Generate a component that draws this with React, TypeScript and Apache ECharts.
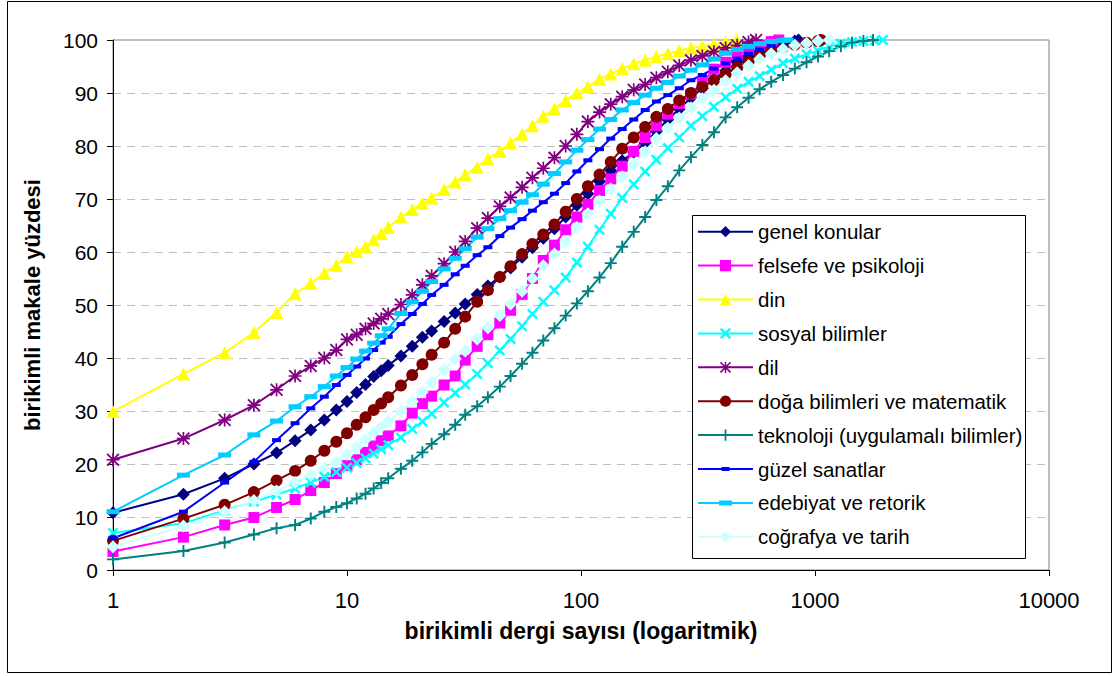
import React, { useEffect, useRef } from "react";
import * as echarts from "echarts";

const X_GRID = [1, 2, 3, 4, 5, 6, 7, 8, 9, 10, 11, 12, 13, 14, 15, 17, 19, 21, 23, 26, 29, 32, 36, 40, 45, 50, 56, 62, 69, 77, 86, 96, 107, 120, 134, 150, 168, 188, 210, 235, 263, 295, 330, 370, 415, 465, 520, 580, 650, 730, 820, 920, 1030, 1150, 1290, 1440, 1610, 1800];

const SERIES_NAMES = [
  "genel konular",
  "felsefe ve psikoloji",
  "din",
  "sosyal bilimler",
  "dil",
  "doğa bilimleri ve matematik",
  "teknoloji (uygulamalı bilimler)",
  "güzel sanatlar",
  "edebiyat ve retorik",
  "coğrafya ve tarih",
];

// cumulative % of articles at X_GRID positions, followed by the last journal count (100 %)
const genel = [10.8, 14.3, 17.3, 20.0, 22.1, 24.4, 26.4, 28.3, 30.2, 31.8, 33.5, 35.0, 36.5, 37.6, 38.6, 40.4, 42.2, 43.9, 45.1, 46.9, 48.5, 50.2, 52.0, 53.6, 55.3, 57.0, 59.0, 60.8, 62.6, 64.4, 66.6, 68.8, 71.0, 73.3, 75.4, 77.2, 78.8, 80.6, 82.8, 85.0, 87.0, 89.1, 90.9, 92.6, 94.2, 95.8, 96.9, 97.8, 98.6, 99.3, 99.8];
const genelEnd = 850;
const felsefe = [3.5, 6.2, 8.5, 9.9, 11.8, 13.3, 15.0, 16.5, 18.2, 19.7, 20.8, 22.2, 23.4, 24.4, 25.3, 27.2, 29.6, 31.4, 32.8, 34.9, 36.6, 39.6, 42.2, 44.4, 46.6, 49.0, 52.0, 55.0, 58.4, 61.3, 64.2, 66.6, 69.0, 71.6, 73.8, 76.2, 79.0, 81.6, 83.8, 86.0, 88.0, 89.8, 92.0, 94.5, 95.8, 97.3, 98.2, 99.0, 99.7];
const felsefeEnd = 700;
const din = [29.9, 37.0, 41.0, 44.8, 48.6, 52.1, 54.1, 56.0, 57.5, 59.1, 60.1, 61.0, 62.3, 63.5, 64.6, 66.6, 68.0, 69.2, 70.2, 71.8, 73.2, 74.6, 76.0, 77.6, 79.0, 80.6, 82.2, 83.8, 85.6, 87.0, 88.6, 90.0, 91.2, 92.6, 93.6, 94.6, 95.5, 96.2, 96.9, 97.4, 98.0, 98.5, 98.8, 99.2, 99.6];
const dinEnd = 463;
const sosyal = [7.0, 8.8, 11.3, 12.9, 14.2, 15.4, 16.5, 17.6, 18.5, 19.3, 20.2, 21.1, 22.0, 22.8, 23.6, 25.0, 26.6, 28.0, 29.5, 31.6, 33.4, 35.0, 37.0, 39.0, 41.4, 43.6, 46.0, 48.3, 50.6, 52.8, 55.2, 58.0, 61.0, 64.2, 67.2, 70.2, 72.8, 75.2, 77.4, 79.6, 81.6, 83.8, 85.6, 87.4, 89.2, 90.8, 92.1, 93.2, 94.4, 95.6, 96.5, 97.3, 98.0, 98.8, 99.3, 99.6, 99.8, 99.9];
const sosyalEnd = 1950;
const dil = [20.8, 24.8, 28.3, 31.1, 34.0, 36.6, 38.5, 40.0, 41.5, 43.5, 44.4, 45.5, 46.5, 47.4, 48.3, 50.1, 51.9, 53.8, 55.5, 57.8, 60.0, 62.0, 64.5, 66.4, 68.6, 70.3, 72.2, 74.0, 75.8, 77.8, 80.0, 82.2, 84.6, 86.4, 87.9, 89.3, 90.6, 91.6, 92.9, 94.0, 95.2, 96.2, 97.0, 97.8, 98.5, 99.0, 99.6];
const dilEnd = 560;
const doga = [5.5, 9.7, 12.3, 14.7, 16.9, 18.7, 20.6, 22.5, 24.2, 25.8, 27.4, 28.8, 30.2, 31.4, 32.6, 34.8, 36.8, 38.8, 40.6, 42.9, 45.5, 47.8, 50.6, 52.8, 55.3, 57.3, 59.6, 61.5, 63.3, 65.2, 67.6, 70.0, 72.4, 74.6, 77.0, 79.5, 81.6, 83.6, 85.5, 87.0, 88.6, 90.0, 91.2, 92.4, 93.6, 94.8, 95.9, 97.0, 97.9, 98.6, 99.1, 99.5, 99.8];
const dogaEnd = 1060;
const teknoloji = [2.0, 3.6, 5.2, 6.7, 7.9, 8.5, 9.7, 11.0, 11.9, 12.6, 13.5, 14.4, 15.4, 16.4, 17.3, 19.1, 20.6, 22.2, 23.8, 25.6, 27.4, 29.3, 30.9, 32.6, 34.6, 36.6, 38.9, 41.0, 43.3, 45.6, 48.0, 50.3, 52.6, 55.2, 57.9, 61.0, 63.8, 66.6, 69.8, 72.4, 75.4, 77.9, 80.2, 82.6, 85.4, 87.3, 89.1, 90.7, 92.1, 93.4, 94.6, 95.8, 96.9, 97.9, 98.8, 99.5, 99.8];
const teknolojiEnd = 1770;
const guzel = [6.0, 11.0, 16.5, 20.4, 24.5, 27.7, 30.5, 32.7, 34.9, 36.8, 38.4, 39.9, 41.5, 42.9, 44.0, 46.4, 48.3, 50.2, 51.9, 53.8, 55.8, 57.4, 59.4, 60.9, 63.0, 64.6, 66.2, 67.8, 69.4, 71.0, 73.0, 75.2, 77.3, 79.4, 81.4, 83.2, 85.0, 86.8, 88.4, 89.6, 90.9, 92.4, 93.4, 94.6, 95.6, 96.5, 97.4, 98.2, 98.9, 99.5];
const guzelEnd = 810;
const edebiyat = [11.0, 17.9, 21.7, 25.5, 28.1, 30.8, 32.7, 34.6, 36.6, 38.2, 39.8, 41.3, 42.8, 44.2, 45.5, 48.4, 50.6, 52.6, 54.4, 56.8, 58.8, 60.6, 62.8, 64.4, 66.3, 67.8, 69.4, 70.8, 72.8, 74.8, 77.0, 79.2, 81.2, 83.2, 85.0, 86.8, 88.2, 89.6, 90.9, 92.0, 93.2, 94.3, 95.3, 96.4, 97.5, 98.2, 98.8, 99.3, 99.7, 99.9];
const edebiyatEnd = 760;
const cografya = [4.4, 8.3, 11.0, 13.1, 14.9, 16.5, 17.9, 19.2, 20.4, 21.8, 23.2, 24.6, 25.9, 27.0, 28.0, 30.0, 31.8, 33.6, 35.4, 37.8, 39.8, 41.3, 43.6, 45.7, 48.0, 50.2, 52.6, 55.0, 57.4, 59.6, 61.9, 64.6, 67.2, 69.6, 71.9, 74.2, 76.6, 78.9, 81.4, 83.4, 85.3, 87.2, 88.9, 90.5, 92.3, 93.8, 95.2, 96.4, 97.4, 98.3, 99.0, 99.4, 99.8];
const cografyaEnd = 1150;

const Y_TICKS = { min: 0, max: 100, interval: 10 };
const X_RANGE = { min: 1, max: 10000 };

const X_MARK = "path://M0,1.6L1.6,0L5,3.4L8.4,0L10,1.6L6.6,5L10,8.4L8.4,10L5,6.6L1.6,10L0,8.4L3.4,5Z";
const PLUS_MARK = "path://M4.2,0H5.8V4.2H10V5.8H5.8V10H4.2V5.8H0V4.2H4.2Z";
const STAR_MARK = "path://M4.35,0H5.65V4.35H10V5.65H5.65V10H4.35V5.65H0V4.35H4.35Z M1,0L5,4L9,0L10,1L6,5L10,9L9,10L5,6L1,10L0,9L4,5L0,1Z";
// legend icons (line + dash marker) for the two dash-marker series
const GUZEL_ICON = "path://M0,6H55V8H0Z M23.5,5H31.5V9H23.5Z";
const EDEBIYAT_ICON = "path://M0,6H55V8H0Z M21,4.5H34V9.5H21Z";

const build = (ys: number[], end: number) => {
  const pts: number[][] = ys.map((y, i) => [X_GRID[i], y]);
  pts.push([end, 100]);
  return pts;
};

export default function App() {
  const ref = useRef<HTMLDivElement>(null);
  useEffect(() => {
    if (!ref.current) return;
    const chart = echarts.init(ref.current, undefined, { renderer: "svg" });
    const font = 'Arial, "Liberation Sans", sans-serif';
    const defs = [
      { d: build(genel, genelEnd), color: "#000080", symbol: "diamond", size: 13 },
      { d: build(felsefe, felsefeEnd), color: "#FF00FF", symbol: "rect", size: 11 },
      { d: build(din, dinEnd), color: "#FFFF00", symbol: "triangle", size: 13 },
      { d: build(sosyal, sosyalEnd), color: "#00FFFF", symbol: X_MARK, size: 11 },
      { d: build(dil, dilEnd), color: "#800080", symbol: STAR_MARK, size: 13 },
      { d: build(doga, dogaEnd), color: "#800000", symbol: "circle", size: 12 },
      { d: build(teknoloji, teknolojiEnd), color: "#008080", symbol: PLUS_MARK, size: 12 },
      { d: build(guzel, guzelEnd), color: "#0000FF", symbol: "rect", size: [9, 4] },
      { d: build(edebiyat, edebiyatEnd), color: "#00CCFF", symbol: "rect", size: [13, 5] },
      { d: build(cografya, cografyaEnd), color: "#CCFFFF", symbol: "diamond", size: 13 },
    ];
    const series = defs.map((s, i) => ({
      name: SERIES_NAMES[i],
      type: "line",
      data: s.d,
      symbol: s.symbol,
      symbolSize: s.size,
      showSymbol: true,
      showAllSymbol: true,
      lineStyle: { color: s.color, width: 2 },
      itemStyle: { color: s.color },
      emphasis: { disabled: true },
    }));
    const legendData = SERIES_NAMES.map((name, i) =>
      i === 7 ? { name, icon: GUZEL_ICON } : i === 8 ? { name, icon: EDEBIYAT_ICON } : { name }
    );
    chart.setOption({
      animation: false,
      backgroundColor: "#ffffff",
      textStyle: { fontFamily: font },
      grid: {
        left: 113,
        right: 66,
        top: 40,
        bottom: 106,
        show: true,
        borderColor: "#808080",
        borderWidth: 1,
        backgroundColor: "transparent",
      },
      xAxis: {
        type: "log",
        logBase: 10,
        min: X_RANGE.min,
        max: X_RANGE.max,
        name: "birikimli dergi sayısı (logaritmik)",
        nameLocation: "middle",
        nameGap: 49,
        nameTextStyle: { fontWeight: "bold", fontSize: 23, color: "#000", fontFamily: font },
        axisLine: { show: true, onZero: false, lineStyle: { color: "#000", width: 1 } },
        axisTick: { show: true, inside: false, length: 6, lineStyle: { color: "#000" } },
        minorTick: { show: false },
        axisLabel: {
          fontSize: 22,
          color: "#000",
          margin: 19,
          fontFamily: font,
          formatter: (v: number) => String(Math.round(v)),
        },
        splitLine: { show: false },
      },
      yAxis: {
        type: "value",
        min: Y_TICKS.min,
        max: Y_TICKS.max,
        interval: Y_TICKS.interval,
        name: "birikimli makale yüzdesi",
        nameLocation: "middle",
        nameGap: 70,
        nameTextStyle: { fontWeight: "bold", fontSize: 22, color: "#000", fontFamily: font },
        axisLine: { show: true, onZero: false, lineStyle: { color: "#000", width: 1 } },
        axisTick: { show: true, inside: false, length: 6, lineStyle: { color: "#000" } },
        axisLabel: { fontSize: 21, color: "#000", margin: 15, fontFamily: font },
        splitLine: { show: true, lineStyle: { color: "#c0c0c0", type: [8, 6], width: 1 } },
      },
      legend: {
        orient: "vertical",
        left: 697,
        top: 220.7,
        padding: 0,
        itemWidth: 55,
        itemHeight: 14,
        itemGap: 11.9,
        selectedMode: false,
        textStyle: { fontSize: 20.5, color: "#000", lineHeight: 22, fontFamily: font },
        data: legendData,
      },
      graphic: {
        elements: [
          {
            type: "rect",
            z: 3,
            shape: { x: 692.5, y: 215.5, width: 333, height: 343 },
            style: { fill: "#ffffff", stroke: "#000000", lineWidth: 1 },
          },
          {
            type: "rect",
            z: 0,
            silent: true,
            shape: { x: 7.5, y: 1.5, width: 1104, height: 671 },
            style: { fill: "none", stroke: "#000000", lineWidth: 1 },
          },
        ],
      },
      series,
    });
    return () => chart.dispose();
  }, []);
  return (
    <div
      ref={ref}
      style={{ position: "absolute", left: 0, top: 0, width: 1115, height: 676 }}
    />
  );
}
